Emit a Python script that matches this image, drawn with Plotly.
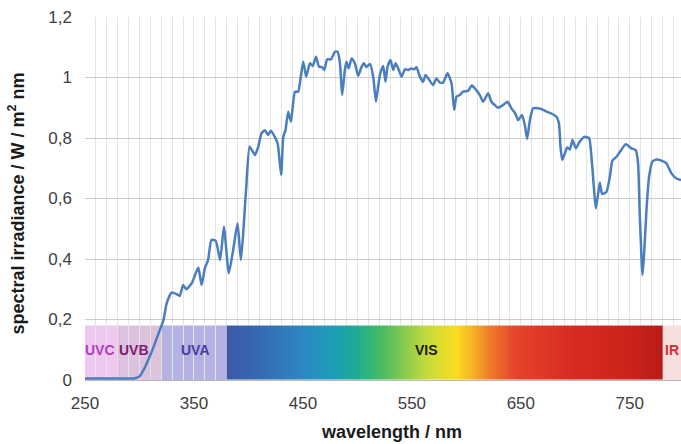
import numpy as np
import plotly.graph_objects as go

# ---- spectrum ----
wavelength = [250, 270, 290, 296, 300, 304, 308, 313, 317, 322, 325, 329.5, 334, 337, 340, 343, 348, 351, 354, 357,
              360, 363, 366, 370, 374, 377.5, 382, 386, 390, 393, 395, 398, 401, 404, 406, 409, 412, 415, 418,
              420.6, 423.7, 426.8, 430, 432, 434, 436.5, 439, 442.7, 445.7, 448, 450.3, 453, 456.4, 459, 462,
              464.7, 467.7, 469.6, 472.3, 475.7, 479.4, 481.8, 484, 486, 488.5, 490, 492, 494.7, 497.7, 500.7,
              503.8, 506, 508.4, 511.5, 514.5, 517, 519, 521, 523.7, 525.8, 527.7, 530.4, 532.9, 535, 537.5,
              540.5, 543.6, 546.6, 549.7, 552, 554.3, 557.3, 560.4, 562.5, 565.6, 569.5, 572.6, 575.7, 578.7,
              582.7, 586.4, 588.8, 591, 594, 597, 601.7, 604.8, 607.8, 612.4, 615.4, 620, 623, 626, 629, 632.9,
              637.8, 641.4, 645, 647.5, 651, 653.7, 655.8, 658.3, 661.3, 665.9, 670.5, 673.6, 678, 682.7, 685,
              686.4, 688, 690.4, 692.5, 695, 697.4, 700.5, 704, 708.7, 712.7, 714.8, 717, 718.8, 721, 722.5,
              724.6, 728.6, 731.7, 734, 737.8, 742.4, 746.3, 751.5, 755.5, 757.6, 759, 760.7, 761.6, 763, 765.3,
              767.7, 770.8, 774.5, 779, 783.6, 788.2, 792.8, 797]
irradiance = [0.005, 0.005, 0.005, 0.006, 0.012, 0.035, 0.066, 0.11, 0.149, 0.198, 0.254, 0.289, 0.284, 0.278, 0.314,
              0.30, 0.32, 0.347, 0.372, 0.314, 0.369, 0.397, 0.463, 0.46, 0.397, 0.507, 0.353, 0.43, 0.518, 0.397,
              0.474, 0.639, 0.771, 0.755, 0.744, 0.771, 0.815, 0.826, 0.81, 0.824, 0.807, 0.782, 0.678, 0.804,
              0.826, 0.887, 0.854, 0.953, 0.953, 1.003, 1.052, 1.003, 1.047, 1.038, 1.069, 1.036, 1.034, 1.025,
              1.06, 1.06, 1.085, 1.085, 1.047, 0.942, 1.025, 1.052, 1.03, 1.063, 1.047, 1.006, 1.035, 1.047,
              1.034, 1.045, 1.003, 0.92, 0.97, 1.014, 1.038, 0.986, 1.036, 1.058, 1.025, 1.047, 1.03, 1.003,
              1.027, 1.025, 1.03, 1.027, 1.034, 1.003, 0.986, 1.008, 0.994, 0.975, 0.997, 0.983, 0.983, 1.014,
              0.981, 0.893, 0.937, 0.942, 0.953, 0.956, 0.974, 0.964, 0.942, 0.92, 0.948, 0.92, 0.909, 0.9,
              0.907, 0.92, 0.898, 0.881, 0.859, 0.876, 0.843, 0.797, 0.859, 0.898, 0.898, 0.893, 0.887, 0.881,
              0.87, 0.848, 0.771, 0.727, 0.749, 0.769, 0.762, 0.793, 0.766, 0.788, 0.804, 0.799, 0.738, 0.639,
              0.567, 0.617, 0.652, 0.615, 0.622, 0.672, 0.725, 0.738, 0.762, 0.779, 0.766, 0.76, 0.716, 0.562,
              0.408, 0.347, 0.408, 0.562, 0.672, 0.722, 0.729, 0.725, 0.716, 0.683, 0.666, 0.661]

# ---- spectral bands ----
band_names = ["UVC", "UVB", "UVA", "VIS", "IR"]
band_start = [250, 280, 320, 380, 780]
band_end = [280, 320, 380, 780, 800]
band_top = 0.18
band_fill = ["#efc8ef", "#dcc2dc", "#b4b2e3", None, "#f9dede"]
label_pos = [264, 295, 351, 563, 789]
label_color = ["#b040c0", "#7a1e6e", "#4a3aa0", "#1a1a1a", "#d03030"]

# visible gradient stops (wavelength, colour)
vis_stops = [(380, "#3a58a6"), (420, "#3470b6"), (455, "#2a8cc6"), (480, "#1aa0b4"), (500, "#20ac90"),
             (522, "#48bc62"), (545, "#8ccc4c"), (565, "#c8dc3a"), (590, "#f8de20"), (605, "#f6b422"),
             (622, "#ee7a2a"), (645, "#e4442a"), (700, "#d82a22"), (750, "#cc2219"), (780, "#b81c18")]

x_ticks = [250, 350, 450, 550, 650, 750]
y_ticks = [0, 0.2, 0.4, 0.6, 0.8, 1.0, 1.2]

fig = go.Figure()

# VIS gradient band as heatmap
lo, hi = vis_stops[0][0], vis_stops[-1][0]
edges = np.arange(band_start[3], band_end[3] + 1, 1.0)
centers = (edges[:-1] + edges[1:]) / 2
colorscale = [[(w - lo) / (hi - lo), c] for w, c in vis_stops]
fig.add_trace(go.Heatmap(x=edges, y=[0, band_top], z=[centers], colorscale=colorscale,
                         zmin=lo, zmax=hi, showscale=False, hoverinfo="skip"))

# UV / IR bands
for name, s, e, f in zip(band_names, band_start, band_end, band_fill):
    if f is None:
        continue
    fig.add_shape(type="rect", xref="x", yref="y", x0=s, x1=e, y0=0, y1=band_top,
                  fillcolor=f, line_width=0, layer="below")

for name, p, c in zip(band_names, label_pos, label_color):
    fig.add_annotation(x=p, y=band_top / 2 + 0.01, text="<b>%s</b>" % name, showarrow=False,
                       font=dict(family="Liberation Sans, Arial", size=14, color=c))

fig.add_trace(go.Scatter(x=wavelength, y=irradiance, mode="lines",
                         line=dict(color="#4a7ebf", width=2.5, shape="spline", smoothing=0.5),
                         hoverinfo="skip"))

W, H = 681, 444
L, R, T, B = 85, 0, 17, 64
fig.update_layout(
    width=W, height=H, margin=dict(l=L, r=R, t=T, b=B, pad=0),
    paper_bgcolor="white", plot_bgcolor="white", showlegend=False,
    separators=", ",
    font=dict(family="Liberation Sans, Arial", color="#404040"),
)
fig.update_xaxes(range=[250, 797], tickvals=x_ticks, ticktext=[str(v) for v in x_ticks],
                 showgrid=True, gridcolor="#e4e4e4", gridwidth=1,
                 minor=dict(dtick=10, tick0=250, showgrid=True, gridcolor="#e4e4e4", gridwidth=1),
                 showline=True, linecolor="#b8b8b8", linewidth=1, zeroline=False,
                 ticks="", tickfont=dict(size=17, color="#404040"), ticklabelstandoff=8)
fig.update_yaxes(range=[0, 1.2], tickvals=y_ticks, showgrid=True, gridcolor="#cccccc", gridwidth=1,
                 zeroline=False, showline=False, ticks="",
                 tickfont=dict(size=17, color="#404040"), ticklabelstandoff=12)

fig.add_annotation(xref="paper", yref="paper", x=0, y=0.5, xshift=-68, yshift=-5,
                   text="<b>spectral irradiance / W / m<sup>2</sup> nm</b>", textangle=-90,
                   showarrow=False, xanchor="center", yanchor="middle",
                   font=dict(family="Liberation Sans, Arial", size=18, color="#1a1a1a"))
fig.add_annotation(xref="paper", yref="paper", x=(391 - L) / (W - L - R), y=0, yshift=-52,
                   text="<b>wavelength / nm</b>", showarrow=False, xanchor="center", yanchor="middle",
                   font=dict(family="Liberation Sans, Arial", size=18, color="#1a1a1a"))

fig.write_html("out.html", config={"displayModeBar": False},
               post_script="document.body.style.margin='0';document.body.style.padding='0';")
